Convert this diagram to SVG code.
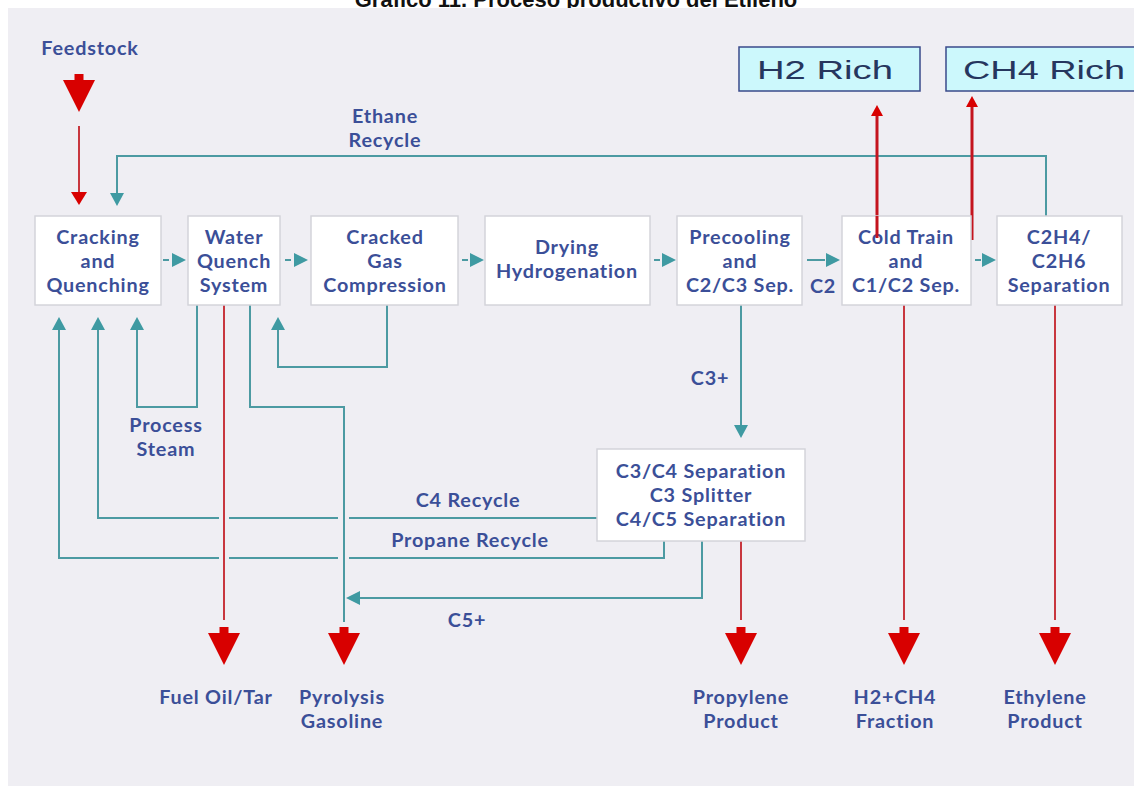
<svg xmlns="http://www.w3.org/2000/svg" width="1134" height="787" viewBox="0 0 1134 787">
  <style>
    .box { fill: #ffffff; stroke: #d4d4da; stroke-width: 1.5; }
    .lbl { font-family: Lato, "Open Sans", sans-serif; font-weight: 700; font-size: 19.8px; letter-spacing: 0.8px; fill: #3b4f98; text-anchor: middle; }
    .teal { fill: none; stroke: #4c9aa2; stroke-width: 2; }
    .teal-head { fill: #3f9aa2; }
    .red { fill: none; stroke: #c8363e; stroke-width: 2; }
    .red-bold { fill: none; stroke: #c4141e; stroke-width: 3; }
    .red-head { fill: #d80000; }
    .rich { fill: #ccf8fc; stroke: #3a4a8a; stroke-width: 1.5; }
    .rich-t { font-family: "Liberation Sans", Arial, sans-serif; font-size: 26px; fill: #26365e; }
  </style>
  <defs>
    <!-- large product outlet arrow: cap plus triangle, tip at origin -->
    <g id="outlet">
      <rect x="-4.5" y="-38" width="9" height="6" class="red-head"/>
      <polygon points="-16,-32 16,-32 0,0" class="red-head"/>
    </g>
    <polygon id="tDown" points="-7,-13 7,-13 0,0" class="teal-head"/>
    <polygon id="tUp" points="-7,13 7,13 0,0" class="teal-head"/>
    <polygon id="tRight" points="-14,-7 -14,7 0,0" class="teal-head"/>
    <polygon id="tLeft" points="14,-7 14,7 0,0" class="teal-head"/>
  </defs>

  <!-- page and panel -->
  <rect x="0" y="0" width="1134" height="787" fill="#ffffff"/>
  <text x="576" y="7" font-family="Liberation Sans, Arial, sans-serif" font-weight="bold" font-size="22" fill="#111111" text-anchor="middle">Gráfico 11. Proceso productivo del Etileno</text>
  <rect x="8" y="8" width="1126" height="778" fill="#efeef3"/>

  <!-- connectors -->
  <g id="connectors">
    <!-- feedstock inlet -->
    <use href="#outlet" x="79" y="112"/>
    <line x1="79" y1="126" x2="79" y2="193" class="red"/>
    <polygon points="71,192 87,192 79,205" class="red-head"/>

    <!-- ethane recycle -->
    <polyline points="1046,217 1046,156 117,156 117,193" class="teal"/>
    <use href="#tDown" x="117" y="206"/>

    <!-- main train arrows -->
    <line x1="163" y1="260" x2="169" y2="260" class="teal"/>
    <use href="#tRight" x="186" y="260"/>
    <line x1="285" y1="260" x2="291" y2="260" class="teal"/>
    <use href="#tRight" x="308" y="260"/>
    <line x1="462" y1="260" x2="468" y2="260" class="teal"/>
    <use href="#tRight" x="484" y="260"/>
    <line x1="654" y1="260" x2="660" y2="260" class="teal"/>
    <use href="#tRight" x="676" y="260"/>
    <line x1="807" y1="260" x2="825" y2="260" class="teal"/>
    <use href="#tRight" x="840" y="260"/>
    <line x1="975" y1="260" x2="981" y2="260" class="teal"/>
    <use href="#tRight" x="996" y="260"/>

    <!-- H2 / CH4 rich offtakes -->
    <line x1="877" y1="238" x2="877" y2="114" class="red-bold"/>
    <polygon points="871,116 883,116 877,105" class="red-head"/>
    <line x1="972" y1="240" x2="972" y2="106" class="red-bold"/>
    <polygon points="966,107 978,107 972,96" class="red-head"/>

    <!-- recycles back to cracking -->
    <polyline points="197,305 197,407 137,407 137,330" class="teal"/>
    <use href="#tUp" x="137" y="317"/>
    <polyline points="597,518 349,518" class="teal"/>
    <polyline points="338,518 229,518" class="teal"/>
    <polyline points="219,518 98,518 98,330" class="teal"/>
    <use href="#tUp" x="98" y="317"/>
    <polyline points="664,541 664,558 349,558" class="teal"/>
    <polyline points="338,558 229,558" class="teal"/>
    <polyline points="219,558 59,558 59,330" class="teal"/>
    <use href="#tUp" x="59" y="317"/>

    <!-- compression condensate return -->
    <polyline points="387,305 387,367 278,367 278,330" class="teal"/>
    <use href="#tUp" x="278" y="317"/>

    <!-- pyrolysis gasoline route -->
    <polyline points="250,305 250,407 344,407 344,622" class="teal"/>
    <polyline points="702,541 702,598 360,598" class="teal"/>
    <use href="#tLeft" x="346" y="598"/>

    <!-- C3+ to separation -->
    <line x1="741" y1="305" x2="741" y2="426" class="teal"/>
    <use href="#tDown" x="741" y="438"/>

    <!-- product draws -->
    <line x1="224" y1="305" x2="224" y2="620" class="red"/>
    <use href="#outlet" x="224" y="665"/>
    <use href="#outlet" x="344" y="665"/>
    <line x1="741" y1="541" x2="741" y2="620" class="red"/>
    <use href="#outlet" x="741" y="665"/>
    <line x1="904" y1="305" x2="904" y2="620" class="red"/>
    <use href="#outlet" x="904" y="665"/>
    <line x1="1055" y1="305" x2="1055" y2="620" class="red"/>
    <use href="#outlet" x="1055" y="665"/>
  </g>

  <!-- connector labels -->
  <g id="labels">
    <text class="lbl" x="90" y="55">Feedstock</text>
    <text class="lbl" x="385" y="123">Ethane</text>
    <text class="lbl" x="385" y="147">Recycle</text>
    <text class="lbl" x="166" y="432">Process</text>
    <text class="lbl" x="166" y="456">Steam</text>
    <text class="lbl" x="468" y="507">C4 Recycle</text>
    <text class="lbl" x="470" y="547">Propane Recycle</text>
    <text class="lbl" x="467" y="627">C5+</text>
    <text class="lbl" x="710" y="385">C3+</text>
    <text class="lbl" x="823" y="293">C2</text>
    <text class="lbl" x="216" y="704">Fuel Oil/Tar</text>
    <text class="lbl" x="342" y="704">Pyrolysis</text>
    <text class="lbl" x="342" y="728">Gasoline</text>
    <text class="lbl" x="741" y="704">Propylene</text>
    <text class="lbl" x="741" y="728">Product</text>
    <text class="lbl" x="895" y="704">H2+CH4</text>
    <text class="lbl" x="895" y="728">Fraction</text>
    <text class="lbl" x="1045" y="704">Ethylene</text>
    <text class="lbl" x="1045" y="728">Product</text>
  </g>

  <!-- process units -->
  <g id="cracking">
    <rect class="box" x="35" y="216" width="126" height="89"/>
    <text class="lbl" x="98" y="244">Cracking</text>
    <text class="lbl" x="98" y="268">and</text>
    <text class="lbl" x="98" y="292">Quenching</text>
  </g>
  <g id="water-quench">
    <rect class="box" x="188" y="216" width="92" height="89"/>
    <text class="lbl" x="234" y="244">Water</text>
    <text class="lbl" x="234" y="268">Quench</text>
    <text class="lbl" x="234" y="292">System</text>
  </g>
  <g id="compression">
    <rect class="box" x="311" y="216" width="147" height="89"/>
    <text class="lbl" x="385" y="244">Cracked</text>
    <text class="lbl" x="385" y="268">Gas</text>
    <text class="lbl" x="385" y="292">Compression</text>
  </g>
  <g id="drying">
    <rect class="box" x="485" y="216" width="165" height="89"/>
    <text class="lbl" x="567" y="254">Drying</text>
    <text class="lbl" x="567" y="278">Hydrogenation</text>
  </g>
  <g id="precooling">
    <rect class="box" x="677" y="216" width="125" height="89"/>
    <text class="lbl" x="740" y="244">Precooling</text>
    <text class="lbl" x="740" y="268">and</text>
    <text class="lbl" x="740" y="292">C2/C3 Sep.</text>
  </g>
  <g id="cold-train">
    <rect class="box" x="842" y="216" width="129" height="89"/>
    <text class="lbl" x="906" y="244">Cold Train</text>
    <text class="lbl" x="906" y="268">and</text>
    <text class="lbl" x="906" y="292">C1/C2 Sep.</text>
  </g>
  <g id="c2-splitter">
    <rect class="box" x="997" y="216" width="125" height="89"/>
    <text class="lbl" x="1059" y="244">C2H4/</text>
    <text class="lbl" x="1059" y="268">C2H6</text>
    <text class="lbl" x="1059" y="292">Separation</text>
  </g>
  <g id="c3-section">
    <rect class="box" x="597" y="449" width="208" height="92"/>
    <text class="lbl" x="701" y="478">C3/C4 Separation</text>
    <text class="lbl" x="701" y="502">C3 Splitter</text>
    <text class="lbl" x="701" y="526">C4/C5 Separation</text>
  </g>

  <!-- rich gas streams -->
  <g id="h2-rich">
    <rect class="rich" x="739" y="47" width="181" height="44"/>
    <text class="rich-t" x="757" y="79" textLength="136" lengthAdjust="spacingAndGlyphs">H2 Rich</text>
  </g>
  <g id="ch4-rich">
    <rect class="rich" x="946" y="47" width="194" height="44"/>
    <text class="rich-t" x="963" y="79" textLength="162" lengthAdjust="spacingAndGlyphs">CH4 Rich</text>
  </g>
  <!-- offtake line overlapping the cold train label -->
  <line x1="877" y1="216" x2="877" y2="238" class="red-bold"/>
</svg>
